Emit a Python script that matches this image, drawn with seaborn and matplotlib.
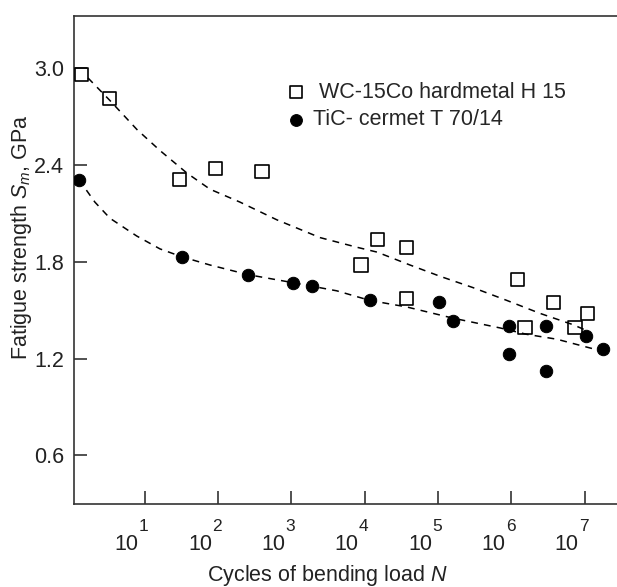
import matplotlib
matplotlib.use("Agg")
import matplotlib.pyplot as plt
import matplotlib.transforms as mtransforms
from matplotlib.ticker import NullLocator
import pandas as pd
import seaborn as sns

# ---- data ----
wc_cycles = [1.39, 3.37, 29.7, 92, 399, 8.93e3, 1.51e4, 3.75e4, 3.71e4,
             1.21e6, 1.54e6, 3.79e6, 7.4e6, 1.08e7]
wc_strength = [2.96, 2.81, 2.31, 2.38, 2.36, 1.78, 1.94, 1.89, 1.57,
               1.69, 1.39, 1.55, 1.39, 1.48]

tic_cycles = [1.27, 32.7, 259, 1070, 1940, 1.19e4, 1.04e5, 1.62e5, 9.3e5,
              9.3e5, 2.95e6, 2.95e6, 1.03e7, 1.78e7]
tic_strength = [2.31, 1.83, 1.72, 1.67, 1.65, 1.56, 1.55, 1.43, 1.40,
                1.23, 1.40, 1.12, 1.34, 1.26]

# dashed trend curves
wc_trend_cycles = [1.69, 3.37, 7.87, 16.2, 37.8, 78, 200, 638, 2470, 7880,
                   1.48e4, 4.16e4, 1.07e5, 3.0e5, 8.75e5, 2.47e6, 6.95e6, 1.11e7]
wc_trend_strength = [2.94, 2.80, 2.62, 2.49, 2.35, 2.25, 2.17, 2.06, 1.95, 1.89,
                     1.86, 1.78, 1.71, 1.64, 1.56, 1.48, 1.41, 1.37]
tic_trend_cycles = [1.27, 2.1, 3.37, 7.8, 16.2, 32.7, 78, 259, 1070, 4170,
                    1.19e4, 3.75e4, 1.62e5, 7.0e5, 1.63e6, 4.17e6, 1.32e7]
tic_trend_strength = [2.31, 2.17, 2.07, 1.96, 1.88, 1.83, 1.78, 1.72, 1.67, 1.62,
                      1.56, 1.52, 1.45, 1.39, 1.35, 1.32, 1.26]

x_exponents = [1, 2, 3, 4, 5, 6, 7]
y_ticks = [0.6, 1.2, 1.8, 2.4, 3.0]

wc_label = " WC-15Co hardmetal H 15"
tic_label = "TiC- cermet T 70/14"

# ---- style ----
sns.set_style("ticks")
plt.rcParams['font.family'] = ['Liberation Sans', 'DejaVu Sans']
plt.rcParams['mathtext.fontset'] = 'custom'
plt.rcParams['mathtext.rm'] = 'Liberation Sans'
plt.rcParams['mathtext.it'] = 'Liberation Sans:italic'

ink = "#222222"
fs = 15.5

wc = pd.DataFrame({"N": wc_cycles, "S": wc_strength})
tic = pd.DataFrame({"N": tic_cycles, "S": tic_strength})
wc_fit = pd.DataFrame({"N": wc_trend_cycles, "S": wc_trend_strength})
tic_fit = pd.DataFrame({"N": tic_trend_cycles, "S": tic_trend_strength})

fig = plt.figure(figsize=(6.17, 5.87), dpi=100)
ax = fig.add_axes([0.1199, 0.1414, 0.8801, 0.8313])
ax.set_xscale("log")

dash = (0, (4.5, 4))
sns.lineplot(data=wc_fit, x="N", y="S", ax=ax, color="black", lw=1.1,
             linestyle=dash, legend=False)
sns.lineplot(data=tic_fit, x="N", y="S", ax=ax, color="black", lw=1.1,
             linestyle=dash, legend=False)

sns.scatterplot(data=wc, x="N", y="S", ax=ax, marker="s", s=88,
                facecolors="none", edgecolor="black", linewidth=1.2,
                label=wc_label, zorder=3)
sns.scatterplot(data=tic, x="N", y="S", ax=ax, marker="o", s=80,
                color="black", edgecolor="black", label=tic_label, zorder=3)

ax.set_xlim(10 ** 0.037, 10 ** 7.442)
ax.set_ylim(0.298, 3.324)

# x ticks: "10" with a raised exponent, drawn as separate texts
ax.set_xticks([10 ** k for k in x_exponents])
ax.set_xticklabels([])
ax.xaxis.set_minor_locator(NullLocator())
blend = mtransforms.blended_transform_factory(ax.transData, ax.transAxes)
base_shift = mtransforms.ScaledTranslation(-0.06, 0, fig.dpi_scale_trans)
exp_shift = mtransforms.ScaledTranslation(-0.055, 0, fig.dpi_scale_trans)
for k in x_exponents:
    ax.text(10 ** k, -0.0943, "10", ha="right", va="baseline", fontsize=fs,
            color=ink, transform=blend + base_shift)
    ax.text(10 ** k, -0.0553, str(k), ha="left", va="baseline", fontsize=12.5,
            color=ink, transform=blend + exp_shift)

ax.set_yticks(y_ticks)
ax.set_yticklabels(["%.1f" % v for v in y_ticks])

ax.tick_params(axis="both", direction="in", length=9.4, width=1.1,
               color=ink, labelsize=fs, labelcolor=ink)
ax.tick_params(axis="y", pad=7)

for side in ["left", "top", "bottom"]:
    ax.spines[side].set_color("#333333")
    ax.spines[side].set_linewidth(1.2)
ax.spines["right"].set_visible(False)

ax.set_xlabel(r"Cycles of bending load $N$", fontsize=fs, color=ink)
ax.set_ylabel(r"Fatigue strength $S_{m}$, GPa", fontsize=fs, color=ink)
ax.xaxis.set_label_coords(0.466, -0.121)
ax.yaxis.set_label_coords(-0.074, 0.546)
ax.xaxis.label.set_va("top")

ax.legend(loc="upper left", bbox_to_anchor=(0.389, 0.865), frameon=False,
          fontsize=fs, handlelength=1.0, handletextpad=0.29, labelspacing=0.3,
          borderpad=0, borderaxespad=0, markerscale=0.95)

fig.savefig("out.png", dpi=100)
